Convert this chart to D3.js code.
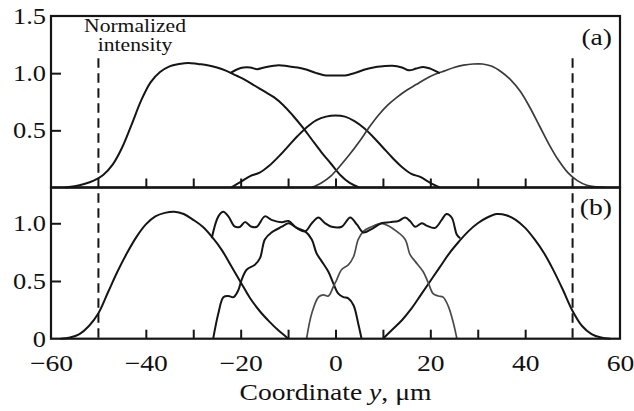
<!DOCTYPE html>
<html>
<head>
<meta charset="utf-8">
<script src="https://d3js.org/d3.v7.min.js"></script>
<style>
  body { margin: 0; background: #fff; }
  text { font-family: "Liberation Serif", Tinos, "Times New Roman", Times, "Nimbus Roman", FreeSerif, serif; fill: #111; }
</style>
</head>
<body>
<script>
// ---- data (x in um, y normalized intensity) ----

// panel (a)
var aLeftX  = [-57,-55,-53,-51,-49,-47,-45,-43,-41,-39,-37,-35,-33,-31,-29,-27,-25,-23,-21,-19,-17,-15,-13,-11,-9,-7,-5,-3,-1,1,3,5];
var aLeftY  = [0,0.01,0.03,0.06,0.11,0.2,0.35,0.55,0.76,0.92,1.01,1.06,1.08,1.09,1.08,1.07,1.05,1.02,0.98,0.94,0.89,0.84,0.79,0.72,0.63,0.53,0.42,0.31,0.21,0.11,0.04,0];
var aRightX = [-5,-3,-1,1,3,5,7,9,11,13,15,17,19,21,23,25,27,29,31,33,35,37,39,41,43,45,47,49,51,53,55,57];
var aRightY = [0,0.04,0.1,0.19,0.29,0.4,0.52,0.63,0.72,0.79,0.85,0.9,0.95,0.99,1.02,1.05,1.07,1.08,1.08,1.06,1.01,0.94,0.84,0.7,0.54,0.38,0.24,0.13,0.06,0.02,0.005,0];
var aMidX   = [-22,-20,-18,-16,-14,-12,-10,-8,-6,-4,-2,0,2,4,6,8,10,12,14,16,18,20,22];
var aMidY   = [0,0.05,0.1,0.13,0.19,0.27,0.36,0.45,0.53,0.59,0.62,0.63,0.62,0.58,0.52,0.44,0.35,0.26,0.18,0.12,0.09,0.04,0];
var aSumX   = [-22.2,-20,-18,-16.5,-15,-12,-10,-8,-6,-4,-2,0,2,4,6,8,10,12,14,15.5,17,18.5,20,22];
var aSumY   = [1.0,1.045,1.05,1.035,1.05,1.07,1.06,1.05,1.03,1.0,0.98,0.98,0.98,1.0,1.03,1.05,1.06,1.065,1.05,1.025,1.04,1.055,1.04,1.0];

// panel (b)
var bLeftX  = [-58,-56,-54,-52,-50,-48,-46,-44,-42,-40,-38,-36,-34,-32,-30,-28,-26,-24,-22,-20,-18,-16,-14,-12,-10.5,-10];
var bLeftY  = [0,0.01,0.04,0.11,0.22,0.4,0.58,0.74,0.88,0.99,1.06,1.09,1.1,1.08,1.03,0.97,0.88,0.77,0.63,0.49,0.35,0.24,0.15,0.07,0.02,0];
var bRightX = [10,12,14,16,18,20,22,24,26,28,30,32,34,36,38,40,42,44,46,48,50,52,54,56,58];
var bRightY = [0,0.08,0.16,0.26,0.38,0.5,0.62,0.74,0.84,0.93,1.0,1.05,1.08,1.07,1.03,0.96,0.86,0.74,0.59,0.42,0.24,0.11,0.04,0.01,0];
var bInLX   = [-25.8,-24.7,-23.65,-22.6,-21.5,-20.5,-19.8,-18.7,-17,-15.9,-14.9,-13.5,-11.3,-9.9,-8.2,-6.4,-5,-4,-2.9,-1.5,-0.46,0.6,1.65,2.7,3.8,4.8,5.5];
var bInLY   = [0,0.22,0.36,0.37,0.36,0.42,0.51,0.6,0.64,0.7,0.86,0.92,0.97,1.0,0.96,0.93,0.86,0.74,0.67,0.58,0.48,0.39,0.36,0.35,0.29,0.13,0];
var bInRX   = [-6.1,-5,-3.6,-2.6,-1.5,-0.46,0.25,1.3,2.7,3.8,4.8,5.9,7.6,9.7,11.5,12.9,14.7,15.7,16.8,18.5,19.6,20.6,21.7,22.7,23.8,24.9,25.6];
var bInRY   = [0,0.22,0.36,0.38,0.37,0.45,0.51,0.6,0.64,0.71,0.86,0.93,0.97,1.0,0.97,0.93,0.86,0.73,0.67,0.58,0.48,0.39,0.37,0.36,0.28,0.13,0];
var bSumX   = [-26.1,-24.7,-23.65,-22.6,-21.2,-20.1,-19.1,-17.7,-16.6,-14.9,-13.5,-11.3,-9.9,-8.2,-6.4,-5,-3.6,-2.2,-0.8,1.3,3.1,4.5,5.9,7.6,9.7,11.5,13.3,14.7,15.7,16.8,18.2,19.2,21,22.4,23.4,24.5,25.6,26.3];
var bSumY   = [0.87,1.06,1.1,1.06,0.97,0.97,1.01,0.97,0.97,1.06,1.03,1.01,1.02,0.96,0.93,1.0,1.05,1.0,0.97,0.97,1.05,0.99,0.92,0.95,1.0,1.01,1.02,1.05,1.02,0.97,1.0,0.98,0.96,1.03,1.08,1.05,0.9,0.87];

var xTicks  = [-40,-30,-20,-10,0,10,20,30,40];
var xLabels = [-60,-40,-20,0,20,40,60];
var aYLabels = [0.5,1.0,1.5];
var bYLabels = [0,0.5,1.0];
var dashX   = [-50,50];

// ---- layout ----
var W = 634, H = 411;
var FONT = "'Liberation Serif', Tinos, 'Times New Roman', Times, 'Nimbus Roman', FreeSerif, serif";
var svg = d3.select("body").append("svg").attr("width", W).attr("height", H);

var x  = d3.scaleLinear().domain([-60,60]).range([51,620]);
var ya = d3.scaleLinear().domain([0,1.5]).range([187.5,16]);
var yb = d3.scaleLinear().domain([0,1.31]).range([338.7,187.5]);

var ink = "#151515";

function pts(xs, ys){ return xs.map(function(v,i){ return [v, ys[i]]; }); }

function drawCurve(data, ys, col, w){
  var line = d3.line()
    .x(function(d){ return x(d[0]); })
    .y(function(d){ return ys(d[1]); })
    .curve(d3.curveCatmullRom.alpha(0.5));
  svg.append("path")
    .attr("d", line(data))
    .attr("fill","none")
    .attr("stroke", col)
    .attr("stroke-width", w)
    .attr("stroke-linejoin","round");
}

// curves, panel (a)
drawCurve(pts(aLeftX,aLeftY), ya, ink, 2);
drawCurve(pts(aMidX,aMidY), ya, ink, 2);
drawCurve(pts(aRightX,aRightY), ya, "#3a3a3a", 1.7);
drawCurve(pts(aSumX,aSumY), ya, ink, 2);

// curves, panel (b)
drawCurve(pts(bLeftX,bLeftY), yb, ink, 2);
drawCurve(pts(bRightX,bRightY), yb, ink, 2);
drawCurve(pts(bInLX,bInLY), yb, ink, 2);
drawCurve(pts(bInRX,bInRY), yb, "#4a4a4a", 1.7);
drawCurve(pts(bSumX,bSumY), yb, ink, 2);

// dashed markers
dashX.forEach(function(v){
  svg.append("line")
    .attr("x1", x(v)).attr("x2", x(v))
    .attr("y1", ya(1.13)).attr("y2", yb(0))
    .attr("stroke", ink).attr("stroke-width", 2)
    .attr("stroke-dasharray", "9.5,5.5");
});

// frames
[[ya(1.5), ya(0)], [yb(1.31), yb(0)]].forEach(function(r){
  svg.append("rect")
    .attr("x", x(-60)).attr("y", r[0])
    .attr("width", x(60)-x(-60)).attr("height", r[1]-r[0])
    .attr("fill","none").attr("stroke", ink).attr("stroke-width", 2.2);
});

// inward ticks along the bottom of both panels
[ya(0), yb(0)].forEach(function(yy){
  var g = svg.append("g").attr("transform","translate(0,"+yy+")")
    .call(d3.axisTop(x).tickValues(xTicks).tickSize(9).tickFormat(""));
  g.select(".domain").remove();
  g.selectAll("line").attr("stroke", ink).attr("stroke-width", 2);
});

// inward ticks on the left edge
[[ya,[0.5,1.0]],[yb,[0.5,1.0]]].forEach(function(p){
  var g = svg.append("g").attr("transform","translate("+x(-60)+",0)")
    .call(d3.axisRight(p[0]).tickValues(p[1]).tickSize(10).tickFormat(""));
  g.select(".domain").remove();
  g.selectAll("line").attr("stroke", ink).attr("stroke-width", 2);
});

// y labels
function fmtY(v){ return v === 0 ? "0" : d3.format(".1f")(v); }
[[ya,aYLabels],[yb,bYLabels]].forEach(function(p){
  var g = svg.append("g").attr("transform","translate("+(x(-60)-5)+",0)")
    .call(d3.axisLeft(p[0]).tickValues(p[1]).tickSize(0).tickPadding(0).tickFormat(fmtY));
  g.select(".domain").remove();
  g.selectAll("text")
    .style("font-family", FONT)
    .style("font-size", "23px").attr("fill", ink)
    .attr("transform","scale(1.15,1)");
});

// x labels
var gx = svg.append("g").attr("transform","translate(0,"+yb(0)+")")
  .call(d3.axisBottom(x).tickValues(xLabels).tickSize(0).tickPadding(16)
    .tickFormat(function(v){ return v < 0 ? "\u2212" + Math.abs(v) : String(v); }));
gx.select(".domain").remove();
gx.selectAll("text")
  .style("font-family", FONT)
  .style("font-size", "23px").attr("fill", ink)
  .attr("transform","scale(1.2,1)");

// axis title
var title = svg.append("text")
  .attr("transform","translate("+x(0)+",400) scale(1.2,1)")
  .attr("text-anchor","middle")
  .style("font-size","23px");
title.append("tspan").text("Coordinate ");
title.append("tspan").style("font-style","italic").text("y");
title.append("tspan").text(", \u03bcm");

// y-axis caption inside panel (a)
svg.append("text")
  .attr("transform","translate(135,32) scale(1.2,1)")
  .attr("text-anchor","middle").style("font-size","18px")
  .text("Normalized");
svg.append("text")
  .attr("transform","translate(135,51) scale(1.2,1)")
  .attr("text-anchor","middle").style("font-size","18px")
  .text("intensity");

// panel tags
svg.append("text")
  .attr("transform","translate(612,45) scale(1.2,1)")
  .attr("text-anchor","end").style("font-size","23px")
  .text("(a)");
svg.append("text")
  .attr("transform","translate(612,215) scale(1.2,1)")
  .attr("text-anchor","end").style("font-size","23px")
  .text("(b)");
</script>
</body>
</html>
